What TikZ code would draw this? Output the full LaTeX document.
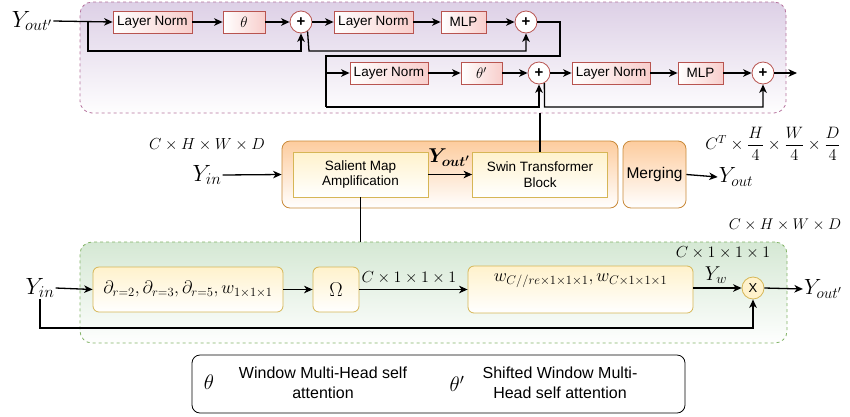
\RequirePackage{fix-cm}
\documentclass[tikz,border=0pt]{standalone}
\usepackage{amsmath}
\usepackage{bm}
\usepackage{fontspec}
\setsansfont{Liberation Sans}
\usetikzlibrary{arrows.meta,calc}
\definecolor{lnred}{HTML}{B85450}
\definecolor{lnpink}{HTML}{F8CECC}
\definecolor{purp}{HTML}{DDD0E6}
\definecolor{purpb}{HTML}{B5739D}
\definecolor{grn}{HTML}{D5E8D4}
\definecolor{grnb}{HTML}{82B366}
\definecolor{org}{HTML}{FDCC9E}
\definecolor{orgb}{HTML}{C98A3A}
\definecolor{yel}{HTML}{FFF2CC}
\definecolor{yelb}{HTML}{D6B656}
\begin{document}
\begin{tikzpicture}[x=1pt,y=-1pt,
  ln/.style={line width=1.3pt},
  arr/.style={line width=1.3pt,-{Stealth[length=8.5pt,width=7.5pt,inset=2.5pt]}},
  sf/.style={font=\sffamily\fontsize{13.5}{15.5}\selectfont},
  lnbox/.style={sf,draw=lnred,line width=0.8pt,left color=white,right color=lnpink,
     minimum height=22pt,inner sep=0pt},
  plusc/.style={circle,draw=lnred,line width=0.8pt,fill=white,minimum size=22pt,inner sep=0pt,
     font=\sffamily\bfseries\fontsize{15}{15}\selectfont},
  obox/.style={draw=orgb,line width=0.8pt,rounded corners=8pt,top color=org,bottom color=white,inner sep=0pt},
  ybox/.style={draw=yelb,line width=0.8pt,top color=yel,bottom color=white,inner sep=0pt},
  yrbox/.style={ybox,rounded corners=6pt},
  bigY/.style={font=\fontsize{23.5}{25}\selectfont,inner sep=1pt},
  dimlbl/.style={font=\fontsize{16}{18}\selectfont,inner sep=0pt},
  leg/.style={font=\sffamily\fontsize{16}{20}\selectfont,align=center,inner sep=0pt}
]
\useasboundingbox (0,0) rectangle (850,416);

% ---------- top block ----------
\node[draw=purpb,line width=0.8pt,dash pattern=on 3pt off 3pt,rounded corners=12pt,
  top color=purp,bottom color=white!97!purp,minimum width=706pt,minimum height=111pt] (tb) at (433,57.5) {};

\node[bigY] (yo1) at (32,21) {$Y_{out'}$};
\node[lnbox,minimum width=79pt] (ln1) at (152.5,22) {Layer Norm};
\node[lnbox,minimum width=42pt,font=\fontsize{15}{15}\selectfont] (th1) at (244,22) {$\theta$};
\node[plusc] (p1) at (301,22) {+};
\node[lnbox,minimum width=79pt] (ln2) at (373.5,22) {Layer Norm};
\node[lnbox,minimum width=45pt] (mlp1) at (463.5,22) {MLP};
\node[plusc] (p2) at (526,22) {+};

\node[lnbox,minimum width=78pt] (ln3) at (389,73) {Layer Norm};
\node[lnbox,minimum width=41pt,font=\fontsize{15}{15}\selectfont] (th2) at (481.5,73) {$\theta'$};
\node[plusc] (p3) at (539,73) {+};
\node[lnbox,minimum width=78pt] (ln4) at (611,73) {Layer Norm};
\node[lnbox,minimum width=45pt] (mlp2) at (700.5,73) {MLP};
\node[plusc] (p4) at (763,73) {+};

\coordinate (b1) at (88,22);
\coordinate (s1) at (88,51);
\coordinate (s2) at (309,51);
\coordinate (r1) at (560,22);
\coordinate (r2) at (560,56);
\coordinate (r3) at (326,56);
\coordinate (r4) at (326,107);
\coordinate (s4) at (544.5,107);
\coordinate (o1) at (797,73);

\draw[arr] (yo1.east) -- (ln1.west);
\draw[arr] (ln1.east) -- (th1.west);
\draw[arr] (th1.east) -- (p1.west);
\draw[arr] (p1.east) -- (ln2.west);
\draw[arr] (ln2.east) -- (mlp1.west);
\draw[arr] (mlp1.east) -- (p2.west);
\draw[arr] (b1) -- (s1) -| (p1.south);
\draw[arr] (p1.-55) -- (s2) -| (p2.south);
\draw[ln] (p2.east) -- (r1) -- (r2) -- (r3) -- (r4);
\draw[arr] (r3) |- (ln3.west);
\draw[arr] (r4) -| (p3.south);
\draw[arr] (ln3.east) -- (th2.west);
\draw[arr] (th2.east) -- (p3.west);
\draw[arr] (p3.east) -- (ln4.west);
\draw[arr] (ln4.east) -- (mlp2.west);
\draw[arr] (mlp2.east) -- (p4.west);
\draw[arr] (p3.-62) -- (s4) -| (p4.south);
\draw[arr] (p4.east) -- (o1);

% ---------- middle row ----------
\node[obox,minimum width=336pt,minimum height=67pt] (og) at (450,174.5) {};
\node[ybox,sf,align=center,minimum width=135pt,minimum height=45pt] (sal) at (360.5,174.5) {Salient Map\\Amplification};
\node[ybox,sf,align=center,minimum width=135pt,minimum height=45pt] (sw) at (540,174.5) {Swin Transformer\\Block};
\node[obox,font=\sffamily\fontsize{15.5}{17}\selectfont,minimum width=63pt,minimum height=67pt] (mer) at (654.5,174.5) {Merging};

\node[dimlbl] (d1) at (207,145) {$C\times H\times W\times D$};
\node[bigY] (yin1) at (207,175) {$Y_{in}$};
\node[font=\fontsize{20}{22}\selectfont,inner sep=0pt] (yo2) at (449,158) {$\bm{Y_{out'}}$};
\node[bigY,font=\fontsize{22}{24}\selectfont] (yout) at (736,177) {$Y_{out}$};
\node[font=\fontsize{16.5}{18}\selectfont,inner sep=0pt] (d2) at (773,144) {$C^T\times\dfrac{H}{4}\times\dfrac{W}{4}\times\dfrac{D}{4}$};
\node[dimlbl,font=\fontsize{15.5}{17}\selectfont] (d3) at (785,225) {$C\times H\times W\times D$};

\draw[arr] (yin1.east) -- (og.west);
\draw[arr] (sal.east) -- (sw.west);
\draw[arr] (mer.east) -- (yout.west);
\draw[ln] (sw.north |- tb.south) -- (sw.north);

% ---------- bottom block ----------
\node[draw=grnb,line width=0.8pt,dash pattern=on 3pt off 3pt,rounded corners=12pt,
  top color=grn,bottom color=white!97!grn,minimum width=707pt,minimum height=101pt] (gb) at (433.5,292.5) {};
\draw[ln] (sal.south) -- (sal.south |- gb.north);

\node[yrbox,minimum width=190pt,minimum height=45pt,font=\fontsize{18}{20}\selectfont] (bx1) at (188,289.5)
  {$\partial_{r=2},\partial_{r=3},\partial_{r=5},w_{1\times1\times1}$};
\node[yrbox,minimum width=46pt,minimum height=45pt,font=\fontsize{20}{22}\selectfont] (om) at (336,289.5) {$\Omega$};
\node[yrbox,minimum width=225pt,minimum height=47pt] (bx3) at (580.5,289.5) {};
\node[font=\fontsize{18}{20}\selectfont,inner sep=0pt] (bx3t) at (580.5,281) {$w_{C//re\times1\times1\times1},w_{C\times1\times1\times1}$};
\node[circle,draw=yelb,line width=0.8pt,fill=yel,minimum size=22pt,inner sep=0pt,font=\sffamily\fontsize{13}{13}\selectfont] (xc) at (753,288) {X};

\node[bigY] (yin2) at (40,288) {$Y_{in}$};
\node[dimlbl] (d4) at (409,278) {$C\times1\times1\times1$};
\node[dimlbl] (d5) at (723,253) {$C\times1\times1\times1$};
\node[font=\fontsize{20}{22}\selectfont,inner sep=0pt] (yw) at (716,275) {$Y_w$};
\node[bigY,font=\fontsize{22}{24}\selectfont] (yo3) at (823,289) {$Y_{out'}$};

\coordinate (k1) at (40,328);
\draw[arr] (yin2.east) -- (bx1.west);
\draw[arr] (bx1.east) -- (om.west);
\draw[arr] (om.east) -- (om.east -| bx3.west);
\draw[arr] (bx3.east |- xc.west) -- (xc.west);
\draw[arr] (xc.east) -- (yo3.west);
\draw[arr] (yin2.south) -- (k1) -| (xc.south);

% ---------- legend ----------
\node[draw,line width=0.8pt,rounded corners=8pt,fill=white,minimum width=493pt,minimum height=58pt] (lg) at (438.5,384) {};
\node[font=\fontsize{21}{23}\selectfont,inner sep=0pt] (lt1) at (209,382) {$\theta$};
\node[leg] (lx1) at (323,383) {Window Multi-Head self\\attention};
\node[font=\fontsize{21}{23}\selectfont,inner sep=0pt] (lt2) at (457,384) {$\theta'$};
\node[leg] (lx2) at (560,383) {Shifted Window Multi-\\Head self attention};
\end{tikzpicture}
\end{document}
